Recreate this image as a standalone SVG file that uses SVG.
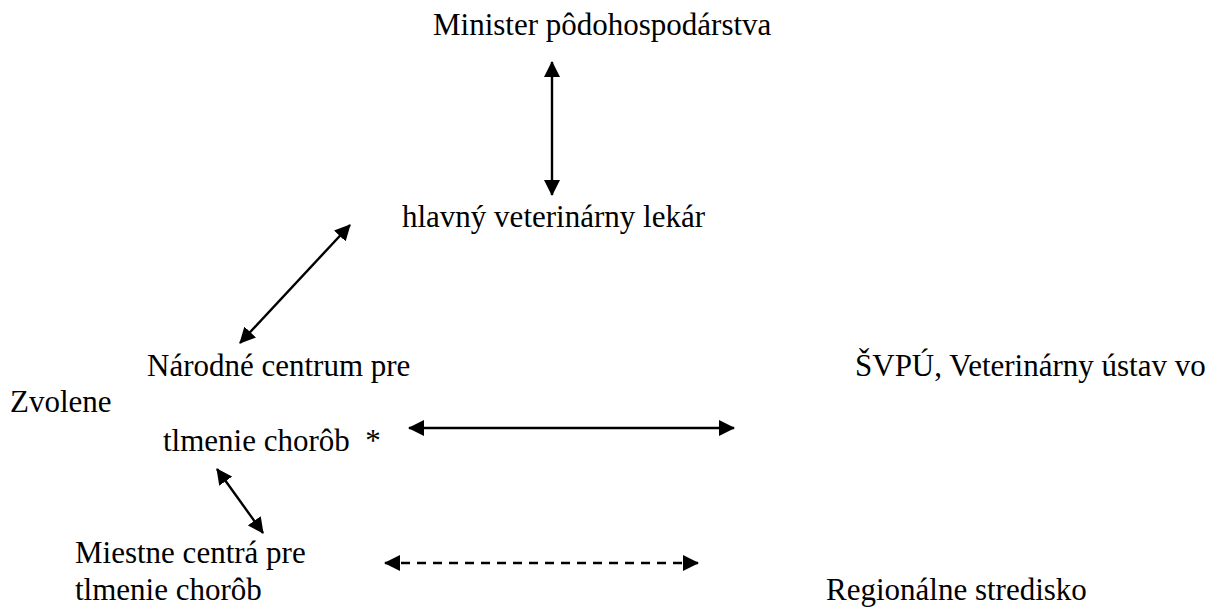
<svg xmlns="http://www.w3.org/2000/svg" width="1224" height="607" viewBox="0 0 1224 607">
<style>
text{font-family:'Liberation Serif','Times New Roman','DejaVu Serif',serif;font-size:31px;fill:#000}
.c{stroke:#000;stroke-width:2.4;fill:none}
.d{stroke-dasharray:9 7}
</style>
<defs>
<marker id="a" markerUnits="userSpaceOnUse" markerWidth="18" markerHeight="16" refX="15" refY="8" orient="auto-start-reverse" viewBox="0 0 18 16">
<path d="M0,0 L16,8 L0,16 Z" fill="#000"/>
</marker>
</defs>
<rect width="1224" height="607" fill="#fff"/>
<g id="minister"><text x="433" y="35">Minister pôdohospodárstva</text></g>
<g id="hlavny"><text x="402" y="227">hlavný veterinárny lekár</text></g>
<g id="narodne"><text x="147" y="376">Národné centrum pre</text><text x="163" y="451" xml:space="preserve">tlmenie chorôb  *</text></g>
<g id="svpu"><text x="855" y="376">ŠVPÚ, Veterinárny ústav vo</text><text x="10" y="412">Zvolene</text></g>
<g id="miestne"><text x="75" y="563">Miestne centrá pre</text><text x="75" y="600">tlmenie chorôb</text></g>
<g id="regionalne"><text x="826" y="600">Regionálne stredisko</text></g>
<g id="connectors">
<line class="c" x1="552" y1="62" x2="552" y2="195" marker-start="url(#a)" marker-end="url(#a)"/>
<line class="c" x1="350" y1="225" x2="240" y2="343" marker-start="url(#a)" marker-end="url(#a)"/>
<line class="c" x1="409" y1="428" x2="734" y2="428" marker-start="url(#a)" marker-end="url(#a)"/>
<line class="c" x1="217" y1="469" x2="263" y2="533" marker-start="url(#a)" marker-end="url(#a)"/>
<line class="c d" x1="385" y1="563" x2="698" y2="563" marker-start="url(#a)" marker-end="url(#a)"/>
</g>
</svg>
